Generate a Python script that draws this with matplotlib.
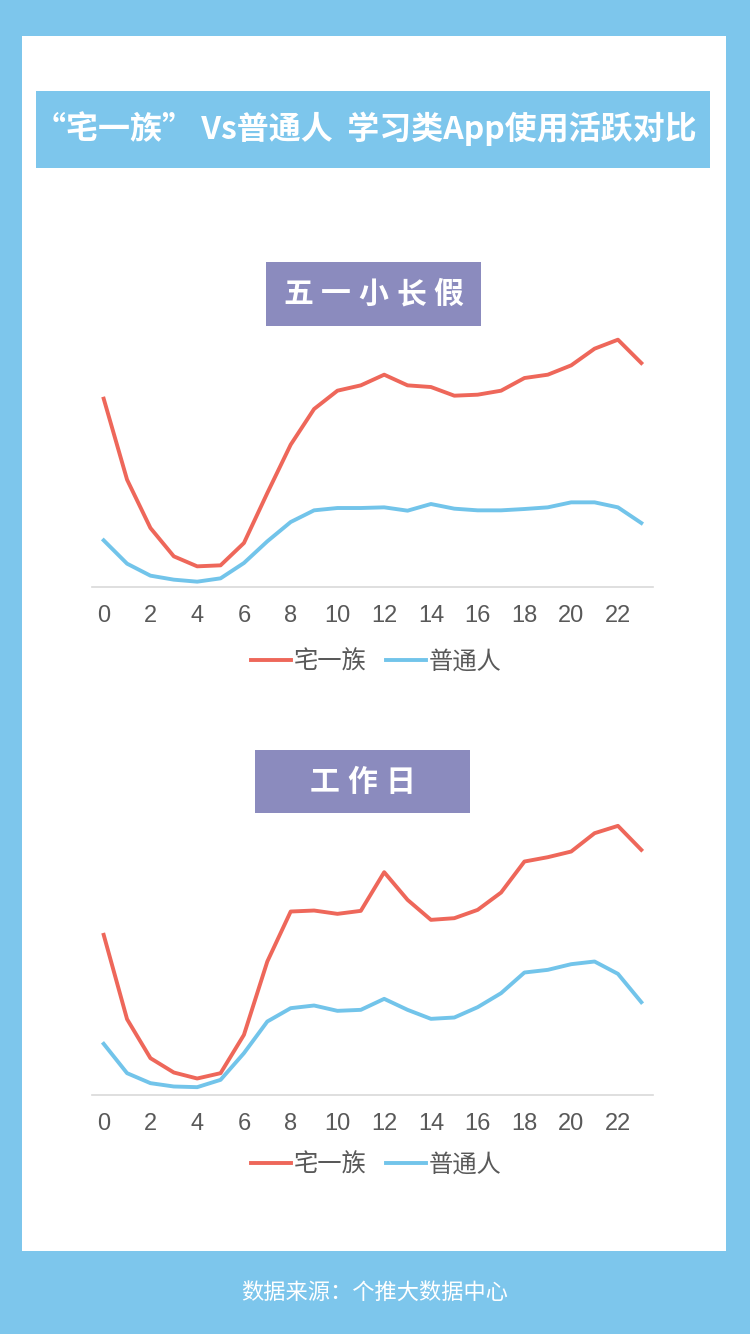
import matplotlib.pyplot as plt
from matplotlib.patches import Rectangle

plt.rcParams['font.family'] = ['Noto Sans CJK SC', 'DejaVu Sans']

hours = list(range(24))
hour_ticks = list(range(0, 24, 2))
series_names = ['宅一族', '普通人']

# 五一小长假
holiday_otaku = [56.5, 32.2, 17.7, 9.2, 6.2, 6.5, 13.2, 28.2, 42.7, 53.4, 58.9, 60.5,
                 63.7, 60.5, 60.0, 57.4, 57.7, 58.9, 62.7, 63.7, 66.5, 71.5, 74.2, 67.2]
holiday_normal = [14.0, 7.0, 3.4, 2.2, 1.6, 2.6, 7.2, 13.7, 19.5, 23.0, 23.7, 23.7,
                  23.9, 22.9, 24.9, 23.5, 23.0, 23.0, 23.4, 23.9, 25.4, 25.4, 23.9, 19.2]

# 工作日
workday_otaku = [47.9, 22.6, 10.9, 6.6, 4.8, 6.4, 17.9, 39.9, 54.9, 55.2, 54.2, 55.1,
                 66.7, 58.4, 52.4, 52.9, 55.4, 60.6, 69.9, 71.2, 72.9, 78.4, 80.6, 73.4]
workday_normal = [15.2, 6.4, 3.4, 2.4, 2.2, 4.4, 12.4, 21.9, 25.9, 26.7, 25.1, 25.4,
                  28.7, 25.4, 22.7, 23.1, 26.2, 30.4, 36.6, 37.4, 39.1, 39.9, 36.2, 27.7]

title = '“宅一族” Vs普通人  学习类App使用活跃对比'
panel_titles = ['五一小长假', '工作日']
source = '数据来源：个推大数据中心'

W, H = 750, 1334
sky = '#7DC6EC'
purple = '#8B8BBE'
red = '#EE675A'
blue = '#72C4EA'
gray = '#595959'

fig = plt.figure(figsize=(W / 100, H / 100), dpi=100)
fig.patch.set_facecolor(sky)


def box(x0, y0, x1, y1, color):
    # rectangle given in pixel coords from the top-left corner
    fig.add_artist(Rectangle((x0 / W, 1 - y1 / H), (x1 - x0) / W, (y1 - y0) / H,
                             transform=fig.transFigure, facecolor=color,
                             edgecolor='none', zorder=-2))


def px_text(x, y, s, **kw):
    fig.text(x / W, 1 - y / H, s, ha='center', va='center', **kw)


# white card and the title bar
box(22, 36, 726, 1251, 'white')
box(36, 91, 710, 168, sky)
px_text(365, 129, title, color='white', fontsize=23, fontweight='bold')


def draw_panel(base_y, head_box, otaku, normal, name, legend_y):
    x0, y0, x1, y1 = head_box
    box(x0, y0, x1, y1, purple)
    n = len(name)
    cx = (x0 + x1) / 2
    for i, ch in enumerate(name):
        px_text(cx + (i - (n - 1) / 2) * 37.5, (y0 + y1) / 2, ch,
                color='white', fontsize=21.5, fontweight='bold')

    ax = fig.add_axes([92 / W, (H - base_y) / H, 561 / W, 283.3 / H])
    ax.set_facecolor('none')
    ax.plot(hours, otaku, color=red, lw=2.8, label=series_names[0], solid_joinstyle='round')
    ax.plot(hours, normal, color=blue, lw=2.8, label=series_names[1], solid_joinstyle='round')
    ax.set_xlim(-0.5, 23.5)
    ax.set_ylim(0, 85)
    ax.set_yticks([])
    ax.set_xticks(hour_ticks)
    ax.set_xticklabels([str(h) for h in hour_ticks], family='Liberation Sans')
    ax.tick_params(axis='x', length=0, pad=13, labelsize=17, labelcolor=gray)
    for side in ['top', 'left', 'right']:
        ax.spines[side].set_visible(False)
    ax.spines['bottom'].set_color('#D9D9D9')
    ax.spines['bottom'].set_linewidth(1.2)

    leg = ax.legend(loc='center', bbox_to_anchor=(376 / W, 1 - legend_y / H),
                    bbox_transform=fig.transFigure, ncol=2, frameon=False,
                    fontsize=17.5, handlelength=1.65, handletextpad=0.12,
                    columnspacing=0.8, borderpad=0)
    for t in leg.get_texts():
        t.set_color(gray)
    return ax


draw_panel(587, (266, 262, 481, 326), holiday_otaku, holiday_normal, panel_titles[0], 662)
draw_panel(1094.5, (255, 750, 470, 813), workday_otaku, workday_normal, panel_titles[1], 1165)

px_text(375, 1292, source, color='white', fontsize=16)

fig.savefig('out.png', dpi=100, facecolor=fig.get_facecolor())
